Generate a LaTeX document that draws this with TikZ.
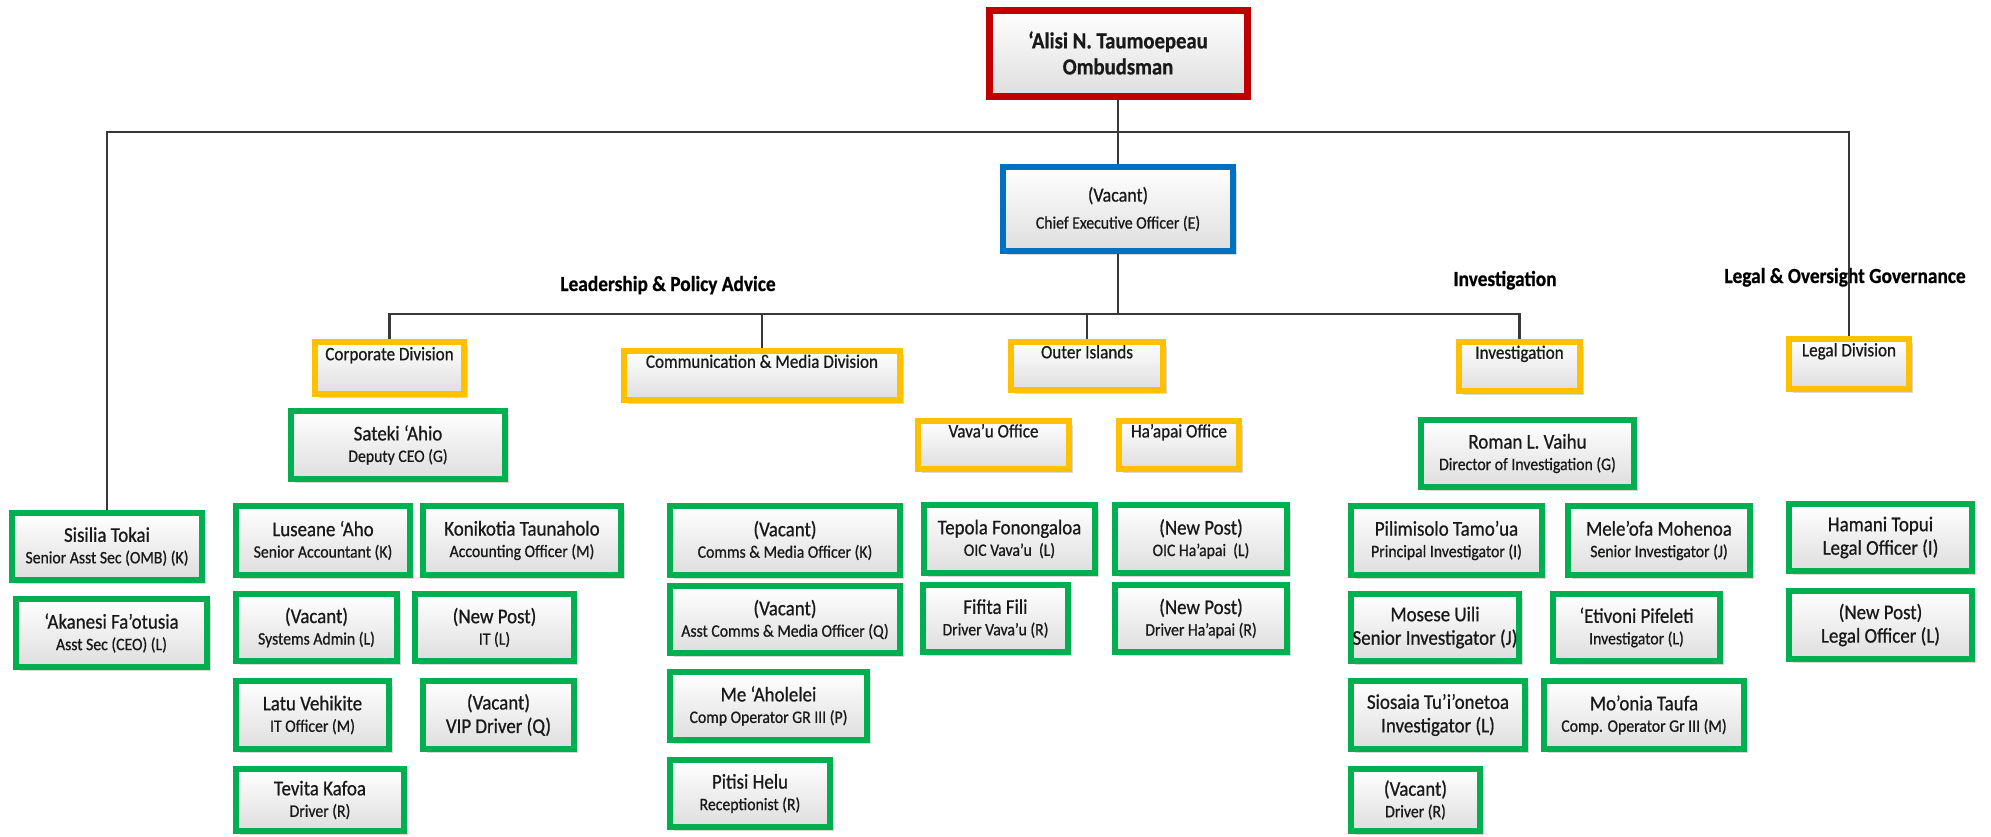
\documentclass[tikz,border=0pt]{standalone}
\usepackage{fontspec}
\setmainfont{Carlito}[FakeStretch=0.9, FakeBold=0.7]
\usetikzlibrary{shadows}
\definecolor{cRed}{HTML}{C00000}
\definecolor{cBlue}{HTML}{0070C0}
\definecolor{cYel}{HTML}{FFC000}
\definecolor{cGreen}{HTML}{00B050}
\definecolor{cLine}{HTML}{383838}
\newcommand\bx[7]{%
  \pgfmathsetmacro\bxw{#4-#2-6}%
  \pgfmathsetmacro\bxh{#5-#3-6}%
  \node[#6, minimum width=\bxw pt, minimum height=\bxh pt] (#1) at ({(#2+#4)/2},{(#3+#5)/2}) {#7};}
\newcommand\nm[2]{{\fontsize{21}{21.5}\selectfont #1}\\#2}
\newcommand\nmL[2]{{\fontsize{21}{21.5}\selectfont #1}\\[2pt]{\fontsize{21}{21.5}\selectfont #2}}
\begin{document}
\begin{tikzpicture}[x=1pt,y=-1pt,
  box/.style={draw, line width=6pt, top color=white, bottom color=black!13, inner sep=0pt, align=center, text=black!90,
    drop shadow={shadow xshift=3.5pt, shadow yshift=-3.5pt, fill=black!30, opacity=.5}},
  gbox/.style={box, draw=cGreen, font=\fontsize{17.5}{21.5}\selectfont},
  ybox/.style={box, draw=cYel, font=\fontsize{19}{22}\selectfont},
  conn/.style={draw=cLine, line width=2.5pt},
  hdr/.style={font=\bfseries\fontsize{21.5}{24}\selectfont, anchor=base, inner sep=0pt},
]
\useasboundingbox[fill=white] (0,0) rectangle (1991,836);

% headers
\node[hdr] (hLead) at (668,291) {Leadership \& Policy Advice};
\node[hdr] (hInv) at (1505,286) {Investigation};
\node[hdr] (hLeg) at (1845,283) {Legal \& Oversight Governance};

% top
\bx{omb}{986}{7}{1250}{99}{box, draw=cRed, line width=7pt, font=\bfseries\fontsize{23}{26}\selectfont}{‘Alisi N. Taumoepeau\\Ombudsman}
\bx{ceo}{1000}{164}{1236}{254}{box, draw=cBlue, font=\fontsize{17.5}{27}\selectfont}{{\fontsize{20}{27}\selectfont (Vacant)}\\Chief Executive Officer (E)}

% divisions
\bx{corp}{312}{339}{467}{397}{ybox}{Corporate Division\\\strut}
\bx{comm}{621}{348}{903}{403}{ybox}{Communication \& Media Division\\\strut}
\bx{outer}{1008}{339}{1166}{393}{ybox}{Outer Islands\\\strut}
\bx{vava}{915}{418}{1072}{472}{ybox}{Vava’u Office\\\strut}
\bx{haap}{1116}{418}{1242}{472}{ybox}{Ha’apai Office\\\strut}
\bx{inv}{1456}{339}{1583}{394}{ybox}{Investigation\\\strut}
\bx{legal}{1786}{336}{1912}{392}{ybox}{Legal Division\\\strut}

% corporate
\bx{sateki}{288}{408}{508}{482}{gbox}{\nm{Sateki ‘Ahio}{Deputy CEO (G)}}
\bx{sis}{9}{510}{205}{583}{gbox}{\nm{Sisilia Tokai}{Senior Asst Sec (OMB) (K)}}
\bx{aka}{13}{596}{210}{670}{gbox}{\nm{‘Akanesi Fa’otusia}{Asst Sec (CEO) (L)}}
\bx{lus}{233}{503}{413}{578}{gbox}{\nm{Luseane ‘Aho}{Senior Accountant (K)}}
\bx{kon}{420}{503}{624}{578}{gbox}{\nm{Konikotia Taunaholo}{Accounting Officer (M)}}
\bx{sys}{233}{591}{400}{664}{gbox}{\nm{(Vacant)}{Systems Admin (L)}}
\bx{itp}{412}{591}{577}{664}{gbox}{\nm{(New Post)}{IT (L)}}
\bx{latu}{233}{678}{392}{752}{gbox}{\nm{Latu Vehikite}{IT Officer (M)}}
\bx{vip}{420}{678}{577}{752}{gbox}{\nmL{(Vacant)}{VIP Driver (Q)}}
\bx{tev}{233}{766}{407}{834}{gbox}{\nm{Tevita Kafoa}{Driver (R)}}

% communication
\bx{cmo}{667}{503}{903}{578}{gbox}{\nm{(Vacant)}{Comms \& Media Officer (K)}}
\bx{acmo}{667}{583}{903}{656}{gbox}{\nm{(Vacant)}{Asst Comms \& Media Officer (Q)}}
\bx{me}{667}{669}{870}{743}{gbox}{\nm{Me ‘Aholelei}{Comp Operator GR III (P)}}
\bx{pit}{667}{757}{833}{830}{gbox}{\nm{Pitisi Helu}{Receptionist (R)}}

% outer islands
\bx{tep}{921}{502}{1098}{576}{gbox}{\nm{Tepola Fonongaloa}{OIC Vava’u~~(L)}}
\bx{fif}{920}{582}{1071}{655}{gbox}{\nm{Fifita Fili}{Driver Vava’u (R)}}
\bx{oich}{1112}{502}{1290}{576}{gbox}{\nm{(New Post)}{OIC Ha’apai~~(L)}}
\bx{drh}{1112}{582}{1290}{655}{gbox}{\nm{(New Post)}{Driver Ha’apai (R)}}

% investigation
\bx{rom}{1418}{417}{1637}{490}{gbox}{\nm{Roman L. Vaihu}{Director of Investigation (G)}}
\bx{pil}{1348}{503}{1545}{578}{gbox}{\nm{Pilimisolo Tamo’ua}{Principal Investigator (I)}}
\bx{mel}{1565}{503}{1753}{578}{gbox}{\nm{Mele’ofa Mohenoa}{Senior Investigator (J)}}
\bx{mos}{1348}{591}{1522}{664}{gbox}{\nmL{Mosese Uili}{Senior Investigator (J)}}
\bx{eti}{1550}{591}{1723}{664}{gbox}{\nm{‘Etivoni Pifeleti}{Investigator (L)}}
\bx{sio}{1348}{678}{1528}{752}{gbox}{\nmL{Siosaia Tu’i’onetoa}{Investigator (L)}}
\bx{moo}{1541}{678}{1747}{752}{gbox}{\nm{Mo’onia Taufa}{Comp. Operator Gr III (M)}}
\bx{vdr}{1348}{766}{1483}{834}{gbox}{\nm{(Vacant)}{Driver (R)}}

% legal
\bx{ham}{1786}{501}{1975}{574}{gbox}{\nmL{Hamani Topui}{Legal Officer (I)}}
\bx{nlo}{1786}{588}{1975}{662}{gbox}{\nmL{(New Post)}{Legal Officer (L)}}

% connectors
\coordinate (j1) at (1118,132);
\coordinate (j2) at (1118,314);
\draw[conn] (omb.south) -- (ceo.north);
\draw[conn] (j1) -| (sis.north);
\draw[conn] (j1) -| (legal.north);
\draw[conn] (ceo.south) -- (j2);
\draw[conn] (j2) -| (corp.north);
\draw[conn] (j2) -| (comm.north);
\draw[conn] (j2) -| (outer.north);
\draw[conn] (j2) -| (inv.north);
\end{tikzpicture}
\end{document}
